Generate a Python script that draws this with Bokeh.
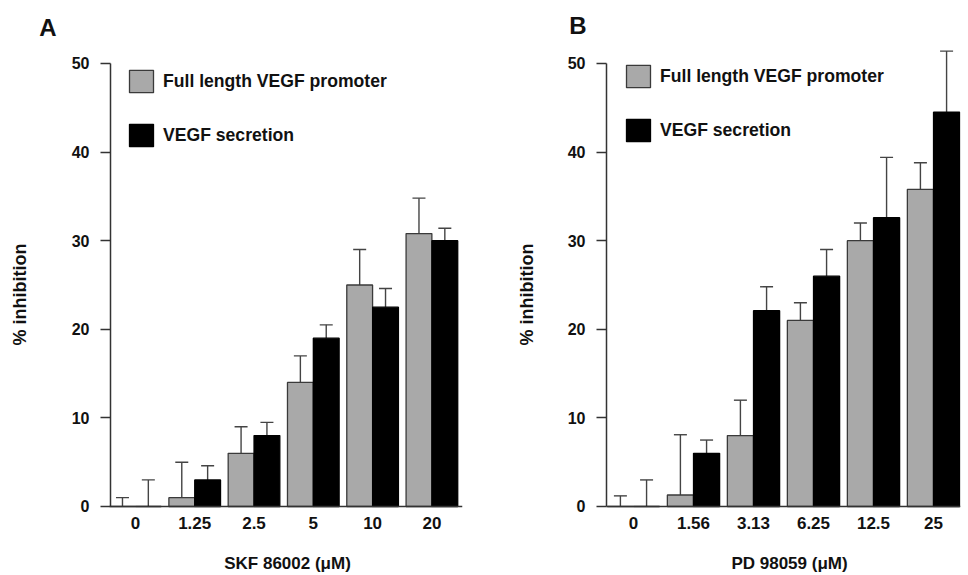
import numpy as np
from bokeh.plotting import figure
from bokeh.models import (ColumnDataSource, Range1d, FixedTicker, Whisker, TeeHead,
                          Legend, LegendItem, Label)
from bokeh.layouts import row
from bokeh.embed import file_html
from bokeh.resources import INLINE

# ---- data ----
a_doses = ["0", "1.25", "2.5", "5", "10", "20"]
a_promoter = [0.0, 1.0, 6.0, 14.0, 25.0, 30.8]
a_promoter_err = [1.0, 4.0, 3.0, 3.0, 4.0, 4.0]
a_secretion = [0.0, 3.0, 8.0, 19.0, 22.5, 30.0]
a_secretion_err = [3.0, 1.6, 1.5, 1.5, 2.1, 1.4]

b_doses = ["0", "1.56", "3.13", "6.25", "12.5", "25"]
b_promoter = [0.0, 1.3, 8.0, 21.0, 30.0, 35.8]
b_promoter_err = [1.2, 6.8, 4.0, 2.0, 2.0, 3.0]
b_secretion = [0.0, 6.0, 22.1, 26.0, 32.6, 44.5]
b_secretion_err = [3.0, 1.5, 2.7, 3.0, 6.8, 6.9]

y_ticks = [0, 10, 20, 30, 40, 50]
series_labels = ["Full length VEGF promoter", "VEGF secretion"]
a_xlabel = "SKF 86002 (\u03bcM)"
b_xlabel = "PD 98059 (\u03bcM)"
y_label = "% inhibition"

FONT = "Liberation Sans"
GRAY = "#a9a9a9"
EDGE = "#3a3a3a"
AX = "#333333"
TXT = "#111111"
Y_START = -7.562
Y_END = 57.11


def make_panel(letter, letter_xy, ylab_xy, xlab_xy, doses, prom, prom_err, sec, sec_err,
               xlabel, width, br, x_start, x_end, yaxis_x, leg_xy, leg_spacing):
    p = figure(width=width, height=573, title=None,
               x_range=Range1d(x_start, x_end), y_range=Range1d(Y_START, Y_END),
               output_backend="svg", toolbar_location=None,
               min_border_left=0, min_border_right=br,
               min_border_top=0, min_border_bottom=0)
    p.outline_line_color = None
    p.xgrid.visible = False
    p.ygrid.visible = False
    p.background_fill_color = "white"
    p.border_fill_color = "white"

    idx = np.arange(len(doses))
    off = 0.218
    bw = 0.435
    src_p = ColumnDataSource(dict(x=idx - off, top=prom, up=np.array(prom) + np.array(prom_err)))
    src_s = ColumnDataSource(dict(x=idx + off, top=sec, up=np.array(sec) + np.array(sec_err)))

    # error bars (upper only)
    for src in (src_p, src_s):
        w = Whisker(source=src, base="x", lower="top", upper="up", dimension="height",
                    line_color="#444444", line_width=1.4,
                    upper_head=TeeHead(size=13, line_color="#444444", line_width=1.4),
                    lower_head=None, level="underlay")
        p.add_layout(w)

    r1 = p.vbar(x="x", top="top", bottom=0, width=bw, source=src_p,
                fill_color=GRAY, line_color=EDGE, line_width=1.3)
    r2 = p.vbar(x="x", top="top", bottom=0, width=bw, source=src_s,
                fill_color="black", line_color="black", line_width=1.3)

    # x axis at y = 0
    xa = p.xaxis[0]
    xa.fixed_location = 0
    xa.ticker = FixedTicker(ticks=list(idx))
    xa.major_label_overrides = {int(i): d for i, d in zip(idx, doses)}
    xa.bounds = (yaxis_x, x_end)
    xa.major_tick_out = 0
    xa.major_tick_in = 0
    xa.minor_tick_out = 0
    xa.minor_tick_in = 0
    xa.axis_line_color = AX
    xa.axis_line_width = 1.5
    xa.major_label_text_font = FONT
    xa.major_label_text_font_style = "bold"
    xa.major_label_text_font_size = "17px"
    xa.major_label_text_color = TXT
    xa.major_label_standoff = 11

    # y axis, drawn at the left end of the bar area
    ya = p.yaxis[0]
    ya.fixed_location = yaxis_x
    ya.ticker = FixedTicker(ticks=y_ticks)
    ya.bounds = (y_ticks[0], y_ticks[-1])
    ya.major_tick_out = 10
    ya.major_tick_in = 0
    ya.minor_tick_out = 0
    ya.minor_tick_in = 0
    ya.major_tick_line_color = AX
    ya.major_tick_line_width = 1.5
    ya.axis_line_color = AX
    ya.axis_line_width = 1.5
    ya.major_label_text_font = FONT
    ya.major_label_text_font_style = "bold"
    ya.major_label_text_font_size = "16px"
    ya.major_label_text_color = TXT
    ya.major_label_standoff = 11

    p.add_layout(Label(x=ylab_xy[0], y=ylab_xy[1], text=y_label, angle=np.pi / 2,
                       text_align="center", text_baseline="middle", text_font=FONT,
                       text_font_style="bold", text_font_size="18px", text_color=TXT))
    p.add_layout(Label(x=xlab_xy[0], y=xlab_xy[1], text=xlabel,
                       text_align="center", text_baseline="middle", text_font=FONT,
                       text_font_style="bold", text_font_size="17px", text_color=TXT))

    legend = Legend(items=[LegendItem(label=series_labels[0], renderers=[r1]),
                           LegendItem(label=series_labels[1], renderers=[r2])],
                    location=leg_xy, orientation="vertical",
                    spacing=leg_spacing, padding=0, margin=0,
                    glyph_width=30, glyph_height=28, label_height=22,
                    label_standoff=7,
                    label_text_font=FONT, label_text_font_style="bold",
                    label_text_font_size="17.6px", label_text_color=TXT,
                    border_line_color=None, background_fill_alpha=0)
    p.add_layout(legend)

    p.add_layout(Label(x=letter_xy[0], y=letter_xy[1], text=letter, text_align="center",
                       text_baseline="alphabetic", text_font=FONT, text_font_style="bold",
                       text_font_size="24px", text_color=TXT))
    return p


# legend location is measured from the bottom of the frame (page y 573)
pA = make_panel("A", (-1.474, 54.06), (-1.938, 23.93), (2.565, -6.43),
                a_doses, a_promoter, a_promoter_err, a_secretion, a_secretion_err,
                a_xlabel, 484, 22, -2.275, 5.516, -0.42, (126, 357 + 67), 26)
pB = make_panel("B", (-0.925, 54.29), (-1.783, 23.93), (2.6, -6.43),
                b_doses, b_promoter, b_promoter_err, b_secretion, b_secretion_err,
                b_xlabel, 484, 8, -2.483, 5.45, -0.45, (139, 362 + 67), 26)

layout = row(pA, pB)
open("out.html", "w").write(file_html(layout, INLINE))
